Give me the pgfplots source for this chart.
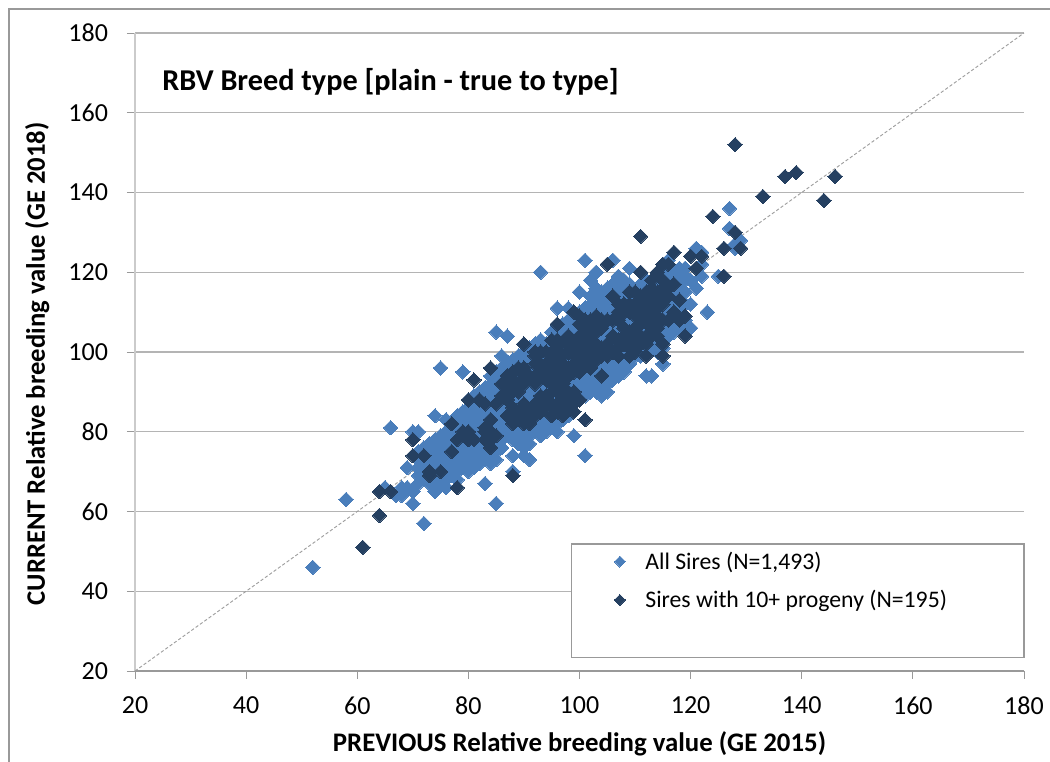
\documentclass[border=0pt]{standalone}
\usepackage{pgfplots}
\pgfplotsset{compat=1.18}
\usepackage{fontspec}
\setmainfont{Carlito}
\definecolor{lblue}{HTML}{4A7EBB}
\definecolor{dblue}{HTML}{254061}
\definecolor{gridg}{HTML}{B4B4B4}
\begin{document}
\begin{tikzpicture}
\useasboundingbox (-101.25pt,-68.25pt) rectangle (686.25pt,503.25pt);
\draw[color=gray!80,line width=1.1pt] (-94.5pt,-68.25pt) -- (-94.5pt,496.5pt) -- (686.25pt,496.5pt);
\begin{axis}[
  at={(0pt,0pt)},anchor=south west,
  scale only axis,width=666.75pt,height=478.5pt,
  xmin=20,xmax=180,ymin=20,ymax=180,
  xtick={20,40,...,180},ytick={20,40,...,180},
  axis x line*=bottom,axis y line*=left,
  x axis line style={-,color=gridg!85!black,line width=.8pt},
  y axis line style={-,color=gridg!70!white,line width=.8pt},
  tick align=outside,major tick length=6pt,
  tick style={color=gridg!85!black,line width=.7pt},
  ymajorgrids,
  major grid style={color=gridg,line width=.8pt},
  /pgf/number format/assume math mode=true,
  tick label style={font=\fontsize{19.5}{21}\selectfont,color=black},
  xticklabel style={yshift=-10pt},
  yticklabel style={xshift=-10.75pt},
  xlabel={PREVIOUS Relative breeding value (GE 2015)},
  ylabel={CURRENT Relative breeding value (GE 2018)},
  every axis x label/.style={at={(axis cs:100,20)},anchor=base,yshift=-60.75pt,font=\bfseries\fontsize{20.1}{22}\selectfont},
  every axis y label/.style={at={(axis cs:20,97)},rotate=90,anchor=base,yshift=67.5pt,font=\bfseries\fontsize{20}{22}\selectfont},
  clip=false,
  legend style={at={(axis cs:106.24,50.6)},anchor=north west,draw=none,fill=none,
    font=\fontsize{17.8}{20}\selectfont,row sep=10.25pt,inner sep=0pt,
    cells={anchor=west}},
  legend cell align=left,
  legend image code/.code={\draw[#1,mark size=2.9pt] plot coordinates {(0.2cm,0cm)};},
]
% ---- All sires
\addplot[only marks,mark=square*,mark size=3.82pt,mark options={rotate=45,fill=lblue,draw=lblue,line width=0pt}] coordinates {
(52,46)(58,63)(65,66)(66,81)(67,64)(68,64)(68,66)(69,66)(69,71)(70,62)(70,65)(70,80)(71,80)(72,57)(74,65)(74,84)(75,96)(76,83)(79,95)(83,67)(85,62)(88,74)(88,70)(91,73)(90,74)(99,79)(101,74)(85,105)(87,104)(86,99)(93,120)(101,123)(106,123)(103,120)(102,118)(107,119)(108,118)(109,121)(100,115)(96,111)(98,111)(116,123)(115,97)(112,101)(108,95)(112,94)(113,94)(104,89)(127,136)(127,131)(121,126)(119,121)(122,119)(125,119)(129,128)(128,127)(128,126)(121,116)(120,112)(123,110)(120,106)(118,107)(122,122)(122,125)(120,118)(119,119)(118,121)
(71,67)(71,69)(71,71)(71,73)(71,75)
(72,68)(72,70)(72,72)(72,74)(72,76)
(73,67)(73,69)(73,71)(73,73)(73,75)(73,77)
(74,68)(74,70)(74,72)(74,74)(74,76)(74,78)
(75,67)(75,69)(75,71)(75,73)(75,75)(75,77)(75,79)
(76,66)(76,68)(76,70)(76,72)(76,74)(76,76)(76,78)(76,80)
(77,69)(77,71)(77,73)(77,75)(77,77)(77,79)(77,81)
(78,68)(78,70)(78,72)(78,74)(78,76)(78,78)(78,80)(78,82)(78,84)
(79,71)(79,73)(79,75)(79,77)(79,79)(79,81)(79,83)(79,85)
(80,70)(80,72)(80,74)(80,76)(80,78)(80,80)(80,82)(80,84)(80,86)(80,88)
(81,71)(81,73)(81,75)(81,77)(81,79)(81,81)(81,83)(81,85)(81,87)(81,89)
(82,72)(82,74)(82,76)(82,78)(82,80)(82,82)(82,84)(82,86)(82,88)(82,90)
(83,73)(83,75)(83,77)(83,79)(83,81)(83,83)(83,85)(83,87)(83,89)(83,91)
(84,72)(84,74)(84,76)(84,78)(84,80)(84,82)(84,84)(84,86)(84,88)(84,90)(84,92)(84,94)
(85,73)(85,75)(85,77)(85,79)(85,81)(85,83)(85,85)(85,87)(85,89)(85,91)(85,93)(85,95)
(86,76)(86,78)(86,80)(86,82)(86,84)(86,86)(86,88)(86,90)(86,92)(86,94)(86,96)
(87,79)(87,81)(87,83)(87,85)(87,87)(87,89)(87,91)(87,93)(87,95)(87,97)
(88,78)(88,80)(88,82)(88,84)(88,86)(88,88)(88,90)(88,92)(88,94)(88,96)(88,98)
(89,77)(89,79)(89,81)(89,83)(89,85)(89,87)(89,89)(89,91)(89,93)(89,95)(89,97)(89,99)
(90,76)(90,78)(90,80)(90,82)(90,84)(90,86)(90,88)(90,90)(90,92)(90,94)(90,96)(90,98)(90,100)(90,102)
(91,77)(91,79)(91,81)(91,83)(91,85)(91,87)(91,89)(91,91)(91,93)(91,95)(91,97)(91,99)(91,101)
(92,80)(92,82)(92,84)(92,86)(92,88)(92,90)(92,92)(92,94)(92,96)(92,98)(92,100)(92,102)
(93,79)(93,81)(93,83)(93,85)(93,87)(93,89)(93,91)(93,93)(93,95)(93,97)(93,99)(93,101)(93,103)
(94,80)(94,82)(94,84)(94,86)(94,88)(94,90)(94,92)(94,94)(94,96)(94,98)(94,100)(94,102)
(95,81)(95,83)(95,85)(95,87)(95,89)(95,91)(95,93)(95,95)(95,97)(95,99)(95,101)(95,103)(95,105)
(96,80)(96,82)(96,84)(96,86)(96,88)(96,90)(96,92)(96,94)(96,96)(96,98)(96,100)(96,102)(96,104)
(97,83)(97,85)(97,87)(97,89)(97,91)(97,93)(97,95)(97,97)(97,99)(97,101)(97,103)(97,105)(97,107)
(98,84)(98,86)(98,88)(98,90)(98,92)(98,94)(98,96)(98,98)(98,100)(98,102)(98,104)(98,106)(98,108)
(99,85)(99,87)(99,89)(99,91)(99,93)(99,95)(99,97)(99,99)(99,101)(99,103)(99,105)(99,107)
(100,88)(100,90)(100,92)(100,94)(100,96)(100,98)(100,100)(100,102)(100,104)(100,106)(100,108)(100,110)
(101,89)(101,91)(101,93)(101,95)(101,97)(101,99)(101,101)(101,103)(101,105)(101,107)(101,109)(101,111)
(102,90)(102,92)(102,94)(102,96)(102,98)(102,100)(102,102)(102,104)(102,106)(102,108)(102,110)(102,112)(102,114)
(103,90)(103,92)(103,94)(103,96)(103,98)(103,100)(103,102)(103,104)(103,106)(103,108)(103,110)(103,112)(103,114)(103,116)
(104,91)(104,93)(104,95)(104,97)(104,99)(104,101)(104,103)(104,105)(104,107)(104,109)(104,111)(104,113)(104,115)
(105,90)(105,92)(105,94)(105,96)(105,98)(105,100)(105,102)(105,104)(105,106)(105,108)(105,110)(105,112)(105,114)(105,116)
(106,93)(106,95)(106,97)(106,99)(106,101)(106,103)(106,105)(106,107)(106,109)(106,111)(106,113)(106,115)(106,117)
(107,94)(107,96)(107,98)(107,100)(107,102)(107,104)(107,106)(107,108)(107,110)(107,112)(107,114)(107,116)
(108,97)(108,99)(108,101)(108,103)(108,105)(108,107)(108,109)(108,111)(108,113)(108,115)(108,117)
(109,97)(109,99)(109,101)(109,103)(109,105)(109,107)(109,109)(109,111)(109,113)(109,115)(109,117)
(110,99)(110,101)(110,103)(110,105)(110,107)(110,109)(110,111)(110,113)(110,115)
(111,99)(111,101)(111,103)(111,105)(111,107)(111,109)(111,111)(111,113)(111,115)(111,117)
(112,100)(112,102)(112,104)(112,106)(112,108)(112,110)(112,112)(112,114)(112,116)(112,118)
(113,101)(113,103)(113,105)(113,107)(113,109)(113,111)(113,113)(113,115)(113,117)
(114,100)(114,102)(114,104)(114,106)(114,108)(114,110)(114,112)(114,114)(114,116)(114,118)
(115,101)(115,103)(115,105)(115,107)(115,109)(115,111)(115,113)(115,115)(115,117)(115,119)
(116,104)(116,106)(116,108)(116,110)(116,112)(116,114)(116,116)(116,118)(116,120)
(117,105)(117,107)(117,109)(117,111)(117,113)(117,115)(117,117)(117,119)
(118,106)(118,110)(118,112)(118,114)(118,116)(118,118)
(119,108)(119,112)(119,115)(119,118)
};
\addlegendentry{\hspace{13pt}All Sires (N=1,493)}
% ---- Sires with 10+ progeny
\addplot[only marks,mark=square*,mark size=3.82pt,mark options={rotate=45,fill=dblue,draw=dblue,line width=0pt}] coordinates {
(128,152)(139,145)(137,144)(146,144)(133,139)(144,138)(124,134)(128,130)(126,126)(129,126)(126,119)(111,129)(120,124)(122,124)(117,125)(121,121)(105,122)(111,120)(114,120)(115,122)(116,122)(118,113)(109,115)(106,114)(119,109)(118,108)(119,104)(114,104)(115,102)(115,99)(111,102)(112,99)(109,99)(96,107)(98,104)(95,103)(96,103)(102,104)(100,107)(99,110)(103,109)(107,112)
(113,116)(114,115)(115,116)(116,116)(114,113)(112,113)(113,110)(115,112)(116,114)(117,117)(112,115)(111,112)(112,109)(115,108)(117,110)(116,108)(113,118)(115,118)(111,114)(110,112)(110,109)(109,112)(108,110)(107,108)(108,106)(106,108)(104,106)(106,104)(105,102)(107,103)(109,105)(110,106)(111,107)(113,106)(112,104)(110,103)(108,102)(107,99)(104,101)(103,102)(102,100)(101,102)(100,104)(99,102)(98,100)(100,100)(103,98)(101,97)(99,97)(97,99)(96,101)(95,98)(94,100)(93,100)(92,100)(90,102)(92,97)(90,96)(94,95)(96,96)(98,94)(100,95)(102,96)(97,92)(95,92)(93,94)(92,94)(90,92)(88,93)(89,90)(87,91)(86,92)(86,89)(85,87)(83,87)(82,88)(80,88)(81,93)(84,96)(93,89)(96,90)(99,90)(99,87)(96,87)(98,88)(95,90)(91,85)(88,84)(90,82)(89,85)(91,84)(97,84)(95,84)(101,83)(104,94)(84,80)(83,81)(83,78)(84,76)(81,78)(79,80)(80,80)(78,78)(77,82)(77,75)(70,78)(70,74)(72,74)(73,70)(73,69)(75,70)(78,66)(64,65)(66,65)(64,59)(61,51)(88,69)(87,94)(89,96)(91,94)(93,97)(95,95)(97,96)(101,100)(103,105)(113,113)(112,111)(114,111)(110,115)(94,89)(92,86)(90,87)(87,88)(95,87)
(87,92)(88,95)(88,90)(89,92)(90,94)(92,92)(93,96)(94,93)(94,97)(95,100)(96,94)(96,98)(97,94)(97,97)(92,99)
(98,96)(98,102)(99,95)(99,99)(100,97)(100,102)(101,99)(101,104)(102,98)(102,102)(103,100)
(94,87)(95,86)(96,85)(97,87)(97,89)(98,86)(98,90)(99,85)(100,88)
(87,84)(88,82)(88,86)(89,83)(90,85)(91,82)(92,84)(92,87)(93,85)
(80,78)(84,78)(85,79)(84,83)(83,80)
(101,106)(102,108)(103,107)(104,108)(105,108)(107,110)(108,104)(108,112)(109,103)(109,110)(110,100)(111,104)(111,109)(111,110)(112,102)(113,104)(113,108)(114,106)(114,109)(105,99)(106,100)(107,101)(102,106)(101,108)(104,99)(100,109)(109,101)
};
\addlegendentry{\hspace{13pt}Sires with 10+ progeny (N=195)}
% ---- line of equality
\addplot[forget plot,color=gray!75,line width=.7pt,dash pattern=on 2.4pt off 1.6pt] coordinates {(20,20)(180,180)};
% ---- legend frame
\draw[color=gridg!85!black,fill=white,line width=.8pt] (axis cs:98.5,51.85) rectangle (axis cs:180,23.5);
\node[anchor=base west,inner sep=0pt,font=\bfseries\fontsize{22.7}{24}\selectfont] at (axis cs:24.86,165.7) {RBV Breed type [plain - true to type]};
\end{axis}
\end{tikzpicture}
\end{document}
